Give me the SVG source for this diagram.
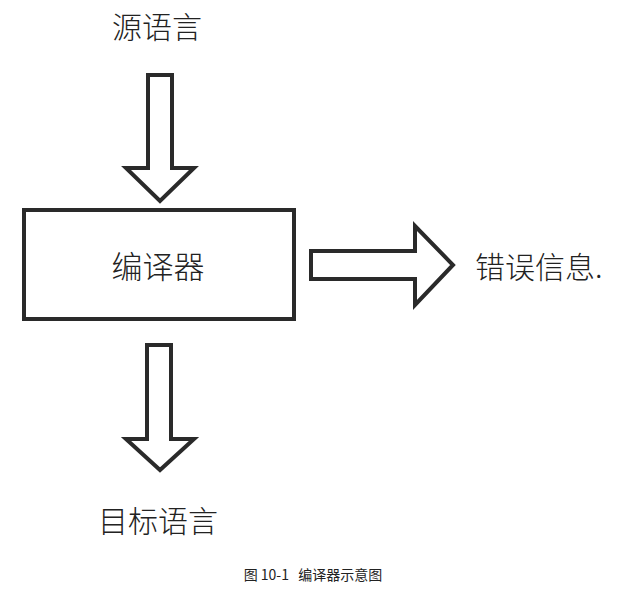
<svg xmlns="http://www.w3.org/2000/svg" width="627" height="607" viewBox="0 0 627 607">
<style>
.t{font-family:"Noto Sans CJK SC","Noto Sans",sans-serif;fill:#222;font-size:30px;font-weight:300}
.cap{font-family:"Noto Sans CJK SC","Noto Sans",sans-serif;fill:#222;font-size:14px}
.shape{fill:#fff;stroke:#2a2a2a;stroke-width:4;stroke-linejoin:miter}
</style>
<rect width="627" height="607" fill="#fff"/>
<g id="source">
<text class="t" x="157" y="38" text-anchor="middle">源语言</text>
</g>
<g id="compiler">
<rect class="shape" x="24" y="210" width="270" height="109"/>
<text class="t" x="158" y="278" text-anchor="middle" style="font-size:31px">编译器</text>
</g>
<g id="errors">
<text class="t" x="475" y="278">错误信息.</text>
</g>
<g id="target">
<text class="t" x="158" y="532" text-anchor="middle">目标语言</text>
</g>
<g id="connectors">
<polygon class="shape" points="148,75 172,75 172,168 194,168 160,201 126,168 148,168"/>
<polygon class="shape" points="311,251 415,251 415,226 453,265 415,305 415,279 311,279"/>
<polygon class="shape" points="147,345 171,345 171,439 194,439 160,470 126,439 147,439"/>
</g>
<g id="caption">
<text class="cap" x="313" y="580" text-anchor="middle" xml:space="preserve">图 10-1   编译器示意图</text>
</g>
</svg>
